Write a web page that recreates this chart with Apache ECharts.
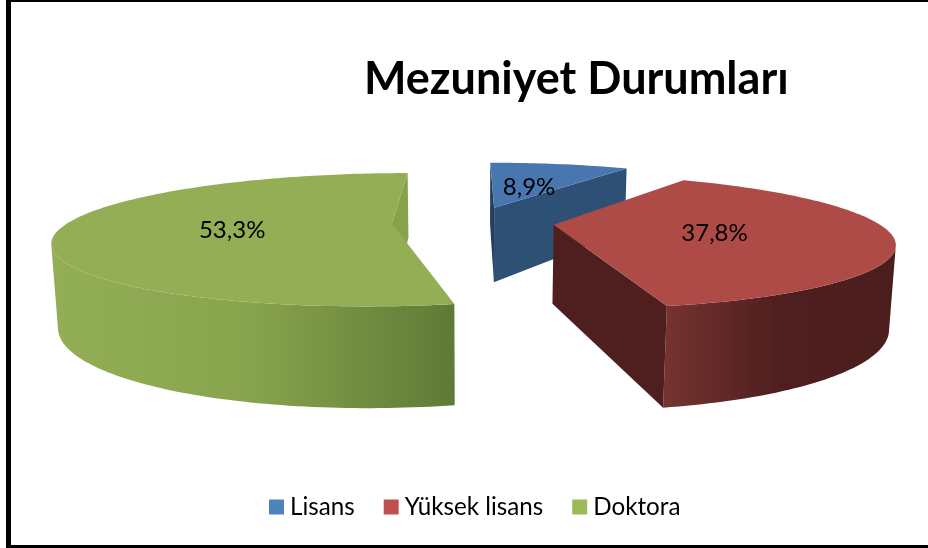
<!DOCTYPE html>
<html>
<head>
<meta charset="utf-8">
<style>
  html, body { margin: 0; padding: 0; background: #fff; }
  #chart { width: 928px; height: 548px; }
</style>
<script src="https://cdn.jsdelivr.net/npm/echarts@6/dist/echarts.min.js"></script>
</head>
<body>
<div id="chart"></div>
<script>
const categories = ['Lisans', 'Yüksek lisans', 'Doktora']
const values = [8.9, 37.8, 53.3]
const titleText = 'Mezuniyet Durumları'

// slice colours: legend, top face, first wall, last wall, outer wall gradient
const sliceStyles = [
  { legend: '#4f81bd', top: '#4877b0', startWall: '#263f5e', endWall: '#2f5075', outer: ['#2f5075', '#2f5075'] },
  { legend: '#c0504d', top: '#ae4b47', startWall: '#4e1f1e', endWall: '#4e1f1e', outer: ['#763331', '#4e1f1e', '#4b1d1c'] },
  { legend: '#9bbb59', top: '#93ae55', startWall: '#5f7a36', endWall: '#86a34b', outer: ['#93af56', '#87a34c', '#5f7a36'] }
]

// tilted pie camera, fitted by eye to the picture
const view = { cx: 473, cy: 222, fx: 323, fy: 62, height: 79.5, persp: 0.24, drop: 0.015, explode: 0.251 }
const cameraY = -1 / view.persp

function project(x, y, depth) {
  const w = 1 + view.persp * y + view.drop * depth
  return [view.cx + view.fx * x / w, view.cy + (-view.fy * y + view.height * depth) / w]
}

function renderSlice(params, api) {
  const total = values.reduce((a, b) => a + b, 0)
  const style = sliceStyles[params.seriesIndex]
  const a0 = api.value(1) / total * Math.PI * 2
  const a1 = (api.value(1) + api.value(0)) / total * Math.PI * 2
  const mid = (a0 + a1) / 2
  const ox = view.explode * Math.sin(mid)
  const oy = view.explode * Math.cos(mid)
  const rim = a => [ox + Math.sin(a), oy + Math.cos(a)]

  const angles = []
  const steps = Math.ceil((a1 - a0) / 0.02)
  for (let i = 0; i <= steps; i++) angles.push(a0 + (a1 - a0) * i / steps)

  const children = []
  const poly = (points, fill) => children.push({ type: 'polygon', shape: { points }, style: { fill } })

  // outer wall, only the part turned to the camera
  const front = angles.filter(a => {
    const p = rim(a)
    return -p[0] * Math.sin(a) + (cameraY - p[1]) * Math.cos(a) > 0
  })
  if (front.length > 1) {
    const stops = style.outer.map((color, i) => ({ offset: i / (style.outer.length - 1), color }))
    const top = front.map(a => project(rim(a)[0], rim(a)[1], 0))
    const bottom = front.map(a => project(rim(a)[0], rim(a)[1], 1)).reverse()
    poly(top.concat(bottom), new echarts.graphic.LinearGradient(0, 0, 1, 0, stops))
  }

  // flat walls
  const wall = (a, sign, fill) => {
    const nx = sign * Math.cos(a)
    const ny = -sign * Math.sin(a)
    if (-ox * nx + (cameraY - oy) * ny <= 0) return
    const p = rim(a)
    poly([project(ox, oy, 0), project(p[0], p[1], 0), project(p[0], p[1], 1), project(ox, oy, 1)], fill)
  }
  wall(a0, -1, style.startWall)
  wall(a1, 1, style.endWall)

  // top face
  poly([project(ox, oy, 0)].concat(angles.map(a => project(rim(a)[0], rim(a)[1], 0))), style.top)

  const at = project(ox + 0.485 * Math.sin(mid), oy + 0.485 * Math.cos(mid), 0)
  children.push({
    type: 'text',
    style: {
      text: api.value(0).toFixed(1).replace('.', ',') + '%',
      x: at[0],
      y: at[1] + 3,
      align: 'center',
      verticalAlign: 'middle',
      fill: '#000',
      font: '24px Lato'
    }
  })
  return { type: 'group', children }
}

const chart = echarts.init(document.getElementById('chart'))
let running = 0
const series = categories.map((name, i) => {
  const start = running
  running += values[i]
  return {
    type: 'custom',
    name,
    coordinateSystem: 'none',
    silent: true,
    renderItem: renderSlice,
    itemStyle: { color: sliceStyles[i].legend },
    data: [[values[i], start]]
  }
})

chart.setOption({
  animation: false,
  backgroundColor: '#fff',
  title: {
    text: titleText,
    left: 364,
    top: 57,
    padding: 0,
    textStyle: { fontFamily: 'Lato', fontWeight: 'bold', fontSize: 45, color: '#000' }
  },
  legend: {
    data: categories,
    left: 269,
    top: 495,
    padding: 0,
    icon: 'rect',
    itemWidth: 15,
    itemHeight: 15,
    itemGap: 29,
    selectedMode: false,
    textStyle: { fontFamily: 'Lato', fontSize: 24.2, color: '#000', padding: [0, 0, 0, 1] }
  },
  graphic: [
    { type: 'rect', shape: { x: 6, y: 0, width: 5, height: 548 }, style: { fill: '#000' } },
    { type: 'rect', shape: { x: 6, y: 0, width: 922, height: 2 }, style: { fill: '#000' } },
    { type: 'rect', shape: { x: 6, y: 545, width: 922, height: 3 }, style: { fill: '#000' } }
  ],
  series
})
</script>
</body>
</html>
